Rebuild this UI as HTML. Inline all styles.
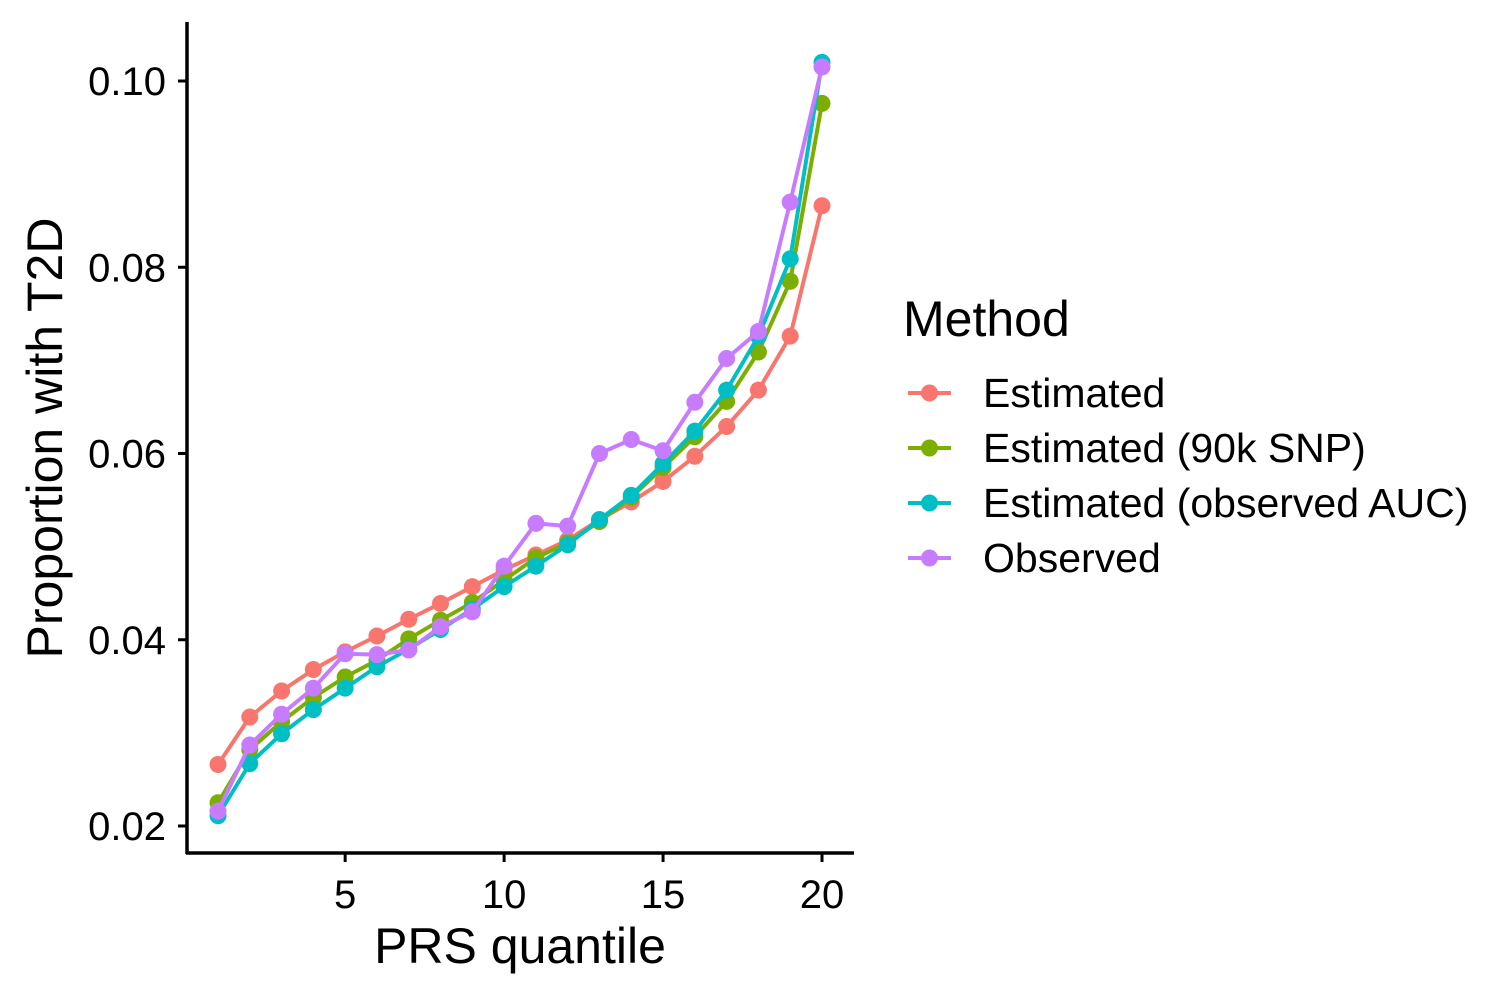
<!DOCTYPE html>
<html><head><meta charset="utf-8"><style>
body{margin:0;background:#fff;}
svg{display:block;font-family:"Liberation Sans",sans-serif;}
</style></head><body>
<svg width="1500" height="1000">
<g id="plot"></g>
<g id="legend"></g>
</svg>
<script>
const quantiles=[1,2,3,4,5,6,7,8,9,10,11,12,13,14,15,16,17,18,19,20];
const seriesNames=["Estimated","Estimated (90k SNP)","Estimated (observed AUC)","Observed"];
const seriesColors=["#F8766D","#7CAE00","#00BFC4","#C77CFF"];
const estimated=[0.0266,0.0317,0.0345,0.0368,0.0387,0.0404,0.0422,0.0439,0.0457,0.0475,0.0491,0.0507,0.0529,0.0548,0.0570,0.0597,0.0629,0.0668,0.0726,0.0866];
const estimated90k=[0.0225,0.0282,0.0312,0.0338,0.0360,0.0378,0.0401,0.0421,0.0440,0.0464,0.0488,0.0504,0.0527,0.0553,0.0585,0.0618,0.0656,0.0709,0.0785,0.0976];
const estimatedAUC=[0.0211,0.0267,0.0299,0.0325,0.0348,0.0371,0.0390,0.0411,0.0433,0.0457,0.0479,0.0502,0.0529,0.0555,0.0589,0.0624,0.0668,0.0726,0.0809,0.1020];
const observed=[0.0216,0.0287,0.0320,0.0348,0.0385,0.0384,0.0389,0.0414,0.0430,0.0479,0.0525,0.0522,0.0600,0.0615,0.0603,0.0655,0.0702,0.0731,0.0870,0.1015];
const xTicks=[5,10,15,20];
const yTicks=[0.02,0.04,0.06,0.08,0.10];
const yTickLabels=["0.02","0.04","0.06","0.08","0.10"];
const NS="http://www.w3.org/2000/svg";
const xS=v=>218+(v-1)*(822-218)/19;
const yS=v=>826-(v-0.02)*(826-81)/0.08;
const plot=document.getElementById('plot');
const legend=document.getElementById('legend');
function mk(tag,attrs,parent){const e=document.createElementNS(NS,tag);for(const k in attrs)e.setAttribute(k,attrs[k]);parent.appendChild(e);return e;}
let ax=mk('line',{x1:187,y1:22,x2:187,y2:854,stroke:'#000','stroke-width':3.5},plot);


ax=mk('line',{x1:186,y1:853,x2:854,y2:853,stroke:'#000','stroke-width':3.5},plot);


xTicks.forEach(t=>{
 const l=mk('line',{x1:xS(t),y1:853,x2:xS(t),y2:862,stroke:'#000','stroke-width':3},plot);
 
 
 const tx=mk('text',{x:xS(t),y:908,'font-size':40,'text-anchor':'middle',fill:'#000'},plot);
 tx.textContent=t;
 
 
});
yTicks.forEach((t,i)=>{
 const l=mk('line',{x1:178,y1:yS(t),x2:187,y2:yS(t),stroke:'#000','stroke-width':3},plot);
 
 
 const tx=mk('text',{x:166,y:yS(t)+14,'font-size':40,'text-anchor':'end',fill:'#000'},plot);
 tx.textContent=yTickLabels[i];
 
 
});
let tt=mk('text',{x:520,y:963,'font-size':50,'text-anchor':'middle',fill:'#000'},plot);
tt.textContent='PRS quantile';


tt=mk('text',{x:0,y:0,'font-size':50,'text-anchor':'middle',fill:'#000',transform:'translate(62,438) rotate(-90)'},plot);
tt.textContent='Proportion with T2D';


const allSeries=[estimated,estimated90k,estimatedAUC,observed];
allSeries.forEach((s,si)=>{
 const g=mk('g',{},plot);
 
 
 const pl=mk('polyline',{points:s.map((v,i)=>xS(quantiles[i])+','+yS(v)).join(' '),fill:'none',stroke:seriesColors[si],'stroke-width':4},g);
 
 
 s.forEach((v,i)=>{
  const c=mk('circle',{cx:xS(quantiles[i]),cy:yS(v),r:8.5,fill:seriesColors[si]},g);
  
  
 });
});
tt=mk('text',{x:903,y:336,'font-size':50,fill:'#000'},legend);
tt.textContent='Method';


seriesNames.forEach((n,i)=>{
 const y=393+i*55;
 const g=mk('g',{},legend);
 
 
 mk('line',{x1:908,y1:y,x2:951,y2:y,stroke:seriesColors[i],'stroke-width':4},g);
 mk('circle',{cx:929.5,cy:y,r:8.5,fill:seriesColors[i]},g);
 const t=mk('text',{x:983,y:y+14,'font-size':41,fill:'#000'},g);
 t.textContent=n;
});
</script>
</body></html>
